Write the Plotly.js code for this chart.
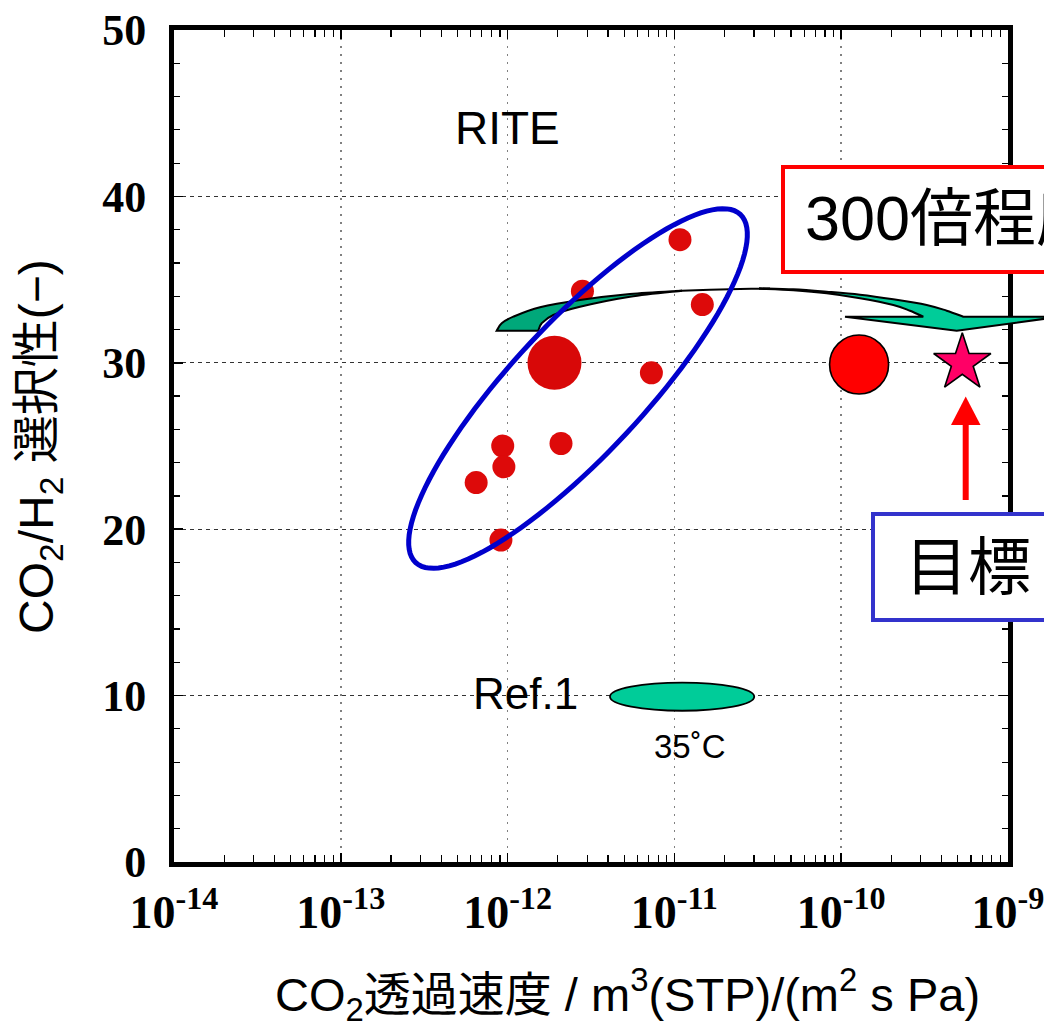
<!DOCTYPE html>
<html><head><meta charset="utf-8">
<script src="https://cdn.plot.ly/plotly-3.0.1.min.js"></script>
<style>html,body{margin:0;padding:0;background:#fff}</style>
</head><body><div id="chart" style="width:1044px;height:1025px"></div>
<script>
// ---- data ----
const riteX = [1.08e-11, 2.81e-12, 1.47e-11, 7.28e-12, 9.35e-13, 2.09e-12, 9.5e-13, 6.48e-13, 9.12e-13];
const riteY = [37.4, 34.3, 33.5, 29.4, 25.0, 25.15, 23.75, 22.8, 19.35];
const riteBigX = [1.91e-12];
const riteBigY = [30.0];
const newX = [1.28e-10];
const newY = [29.9];
const targetX = [5.32e-10];
const targetY = [30.0];
const ref1X = [4.11e-12, 3.01e-11];
const ref1Y = [9.09, 10.78];
const xTickVals = [1e-14, 1e-13, 1e-12, 1e-11, 1e-10, 1e-9];
const xTickText = ['10<sup>-14</sup>', '10<sup>-13</sup>', '10<sup>-12</sup>', '10<sup>-11</sup>', '10<sup>-10</sup>', '10<sup>-9</sup>'];
const yTickVals = [0, 10, 20, 30, 40, 50];
const yTickText = ['0', '10', '20', '30', '40', '50'];

// ---- geometry helpers ----
const L = 174, R = 1008, T = 30, B = 862;
function px2p(px, py) { return [(px - L) / (R - L), (B - py) / (B - T)]; }
function xd2p(v) { return (Math.log10(v) + 14) / 5; }
function yd2p(v) { return v / 50; }
function fmt(p) { return p[0].toFixed(5) + ',' + p[1].toFixed(5); }
function smoothSeg(pts) {
  let s = '';
  for (let i = 0; i < pts.length - 1; i++) {
    const p0 = pts[i - 1] || pts[i], p1 = pts[i], p2 = pts[i + 1], p3 = pts[i + 2] || pts[i + 1];
    const c1 = [p1[0] + (p2[0] - p0[0]) / 6, p1[1] + (p2[1] - p0[1]) / 6];
    const c2 = [p2[0] - (p3[0] - p1[0]) / 6, p2[1] - (p3[1] - p1[1]) / 6];
    s += ' C ' + fmt(c1) + ' ' + fmt(c2) + ' ' + fmt(p2);
  }
  return s;
}
const P = a => a.map(q => px2p(q[0], q[1]));

// green curved arrow, left crescent
const c1Outer = P([[496.7,330.7],[501.7,323.3],[513.3,316.7],[540,307.3],[580,300],[630,294],[682,290.7]]);
const c1Inner = P([[682,290.7],[630,296.7],[580,306.7],[553.3,315],[541.7,323.3],[538.3,330.7]]);
const crescentPath = 'M ' + fmt(c1Outer[0]) + smoothSeg(c1Outer) + smoothSeg(c1Inner) + ' Z';
const linkPts = P([[675,290.9],[710,289.8],[740,289],[770,288.6]]);
const linkPath = 'M ' + fmt(linkPts[0]) + smoothSeg(linkPts);
const a2Upper = P([[760,288.3],[793.3,289.3],[826.7,291.7],[860,294.7],[893.3,299.3],[926.7,305],[946.7,310.7],[963.3,316.7]]);
const a2Inner = P([[923.3,316.7],[910,310.7],[893.3,305],[860,298.3],[826.7,293.3],[793.3,290.3],[760,288.8]]);
const headPts = P([[1060,316.7],[956.7,330.7],[845,316.7]]);
const arrow2Path = 'M ' + fmt(a2Upper[0]) + smoothSeg(a2Upper) +
  ' L ' + fmt(headPts[0]) + ' L ' + fmt(headPts[1]) + ' L ' + fmt(headPts[2]) +
  ' L ' + fmt(a2Inner[0]) + smoothSeg(a2Inner) + ' Z';

// blue ellipse around RITE points
function ellipsePath(cx, cy, a, b, deg) {
  const th = deg * Math.PI / 180;
  const u = [Math.cos(th), -Math.sin(th)], v = [Math.sin(th), Math.cos(th)];
  let s = '';
  for (let i = 0; i <= 120; i++) {
    const t = i / 120 * 2 * Math.PI;
    const x = cx + a * Math.cos(t) * u[0] + b * Math.sin(t) * v[0];
    const y = cy + a * Math.cos(t) * u[1] + b * Math.sin(t) * v[1];
    s += (i === 0 ? 'M ' : ' L ') + fmt(px2p(x, y));
  }
  return s + ' Z';
}

// red up arrow
const redHead = P([[951,425],[980.5,425],[965.7,396.5]]);
const redHeadPath = 'M ' + fmt(redHead[0]) + ' L ' + fmt(redHead[1]) + ' L ' + fmt(redHead[2]) + ' Z';
const redLine0 = px2p(965.7, 500), redLine1 = px2p(965.7, 422);

const rb0 = px2p(783, 272), rb1 = px2p(1100, 167);
const bb0 = px2p(873, 620), bb1 = px2p(1100, 514);

const shapes = [
  {type:'circle', xref:'paper', yref:'paper', x0:xd2p(ref1X[0]), x1:xd2p(ref1X[1]), y0:yd2p(ref1Y[0]), y1:yd2p(ref1Y[1]),
   fillcolor:'#00cc99', line:{color:'#000', width:1.8}, layer:'above'},
  {type:'path', xref:'paper', yref:'paper', path:crescentPath, fillcolor:'#00a87a', line:{color:'#000', width:2}, layer:'above'},
  {type:'path', xref:'paper', yref:'paper', path:linkPath, line:{color:'#000', width:2}, layer:'above'},
  {type:'path', xref:'paper', yref:'paper', path:arrow2Path, fillcolor:'#00cc99', line:{color:'#000', width:2}, layer:'above'},
  {type:'path', xref:'paper', yref:'paper', path:ellipsePath(578, 388.5, 238, 66, 47), line:{color:'#0000cc', width:5}, layer:'above'},
  {type:'line', xref:'paper', yref:'paper', x0:redLine0[0], y0:redLine0[1], x1:redLine1[0], y1:redLine1[1], line:{color:'#ff0000', width:6}, layer:'above'},
  {type:'path', xref:'paper', yref:'paper', path:redHeadPath, fillcolor:'#ff0000', line:{color:'#ff0000', width:0}, layer:'above'},
  {type:'rect', xref:'paper', yref:'paper', x0:rb0[0], y0:rb0[1], x1:rb1[0], y1:rb1[1], fillcolor:'#fff', line:{color:'#ff0000', width:4}, layer:'above'},
  {type:'rect', xref:'paper', yref:'paper', x0:bb0[0], y0:bb0[1], x1:bb1[0], y1:bb1[1], fillcolor:'#fff', line:{color:'#3333cc', width:4}, layer:'above'}
];

const sans = 'Liberation Sans, Arial, Noto Sans CJK JP, sans-serif';
function ann(text, px, py, size, extra) {
  const p = px2p(px, py);
  return Object.assign({text:text, xref:'paper', yref:'paper', x:p[0], y:p[1], xanchor:'center', yanchor:'middle',
    showarrow:false, font:{family:sans, size:size, color:'#000'}}, extra || {});
}
const annotations = [
  ann('RITE', 507.5, 128, 46),
  ann('Ref.1', 525.8, 693, 44),
  ann('35˚C', 690, 746, 33),
  ann('300倍程度', 803, 218, 63, {xanchor:'left'}),
  ann('目標', 903, 567, 63, {xanchor:'left'}),
  ann('CO<sub>2</sub>/H<sub>2</sub> 選択性(−)', 40, 447, 48, {textangle:-90}),
  ann('CO<sub>2</sub>透過速度 / m<sup>3</sup>(STP)/(m<sup>2</sup> s Pa)', 627, 994, 47)
];

const traces = [
  {x:riteX, y:riteY, type:'scatter', mode:'markers', marker:{color:'#dd0a0a', size:23, line:{width:0}}, hoverinfo:'skip'},
  {x:riteBigX, y:riteBigY, type:'scatter', mode:'markers', marker:{color:'#d80808', size:54, line:{width:0}}, hoverinfo:'skip'},
  {x:newX, y:newY, type:'scatter', mode:'markers', marker:{color:'#ff0000', size:59, line:{color:'#000', width:1.6}}, hoverinfo:'skip'},
  {x:targetX, y:targetY, type:'scatter', mode:'markers', marker:{symbol:'star', color:'#ff0066', size:43, line:{color:'#000', width:1.6}}, hoverinfo:'skip'}
];

const tickFont = {family:'Liberation Serif, Times New Roman, serif', size:44, color:'#000', weight:'bold'};
const layout = {
  width:1044, height:1025,
  margin:{l:L, r:1044 - R, t:T, b:1025 - B},
  paper_bgcolor:'#fff', plot_bgcolor:'#fff',
  showlegend:false,
  xaxis:{type:'log', range:[-14, -9], tickvals:xTickVals, ticktext:xTickText, tickfont:Object.assign({}, tickFont, {size:46}),
    ticklabeloverflow:'allow',
    showline:true, linewidth:5, linecolor:'#000', mirror:'allticks', ticks:'inside', ticklen:9, tickwidth:1.5, tickcolor:'#000',
    showgrid:true, gridcolor:'#808080', griddash:'2px,6px', gridwidth:1.6, zeroline:false, ticklabelstandoff:6,
    minor:{ticks:'inside', ticklen:7, tickwidth:1.2, tickcolor:'#000', showgrid:false, dtick:'D1'}},
  yaxis:{range:[0, 50], tickvals:yTickVals, ticktext:yTickText, tickfont:tickFont, ticklabeloverflow:'allow',
    showline:true, linewidth:5, linecolor:'#000', mirror:'allticks', ticks:'inside', ticklen:9, tickwidth:1.5, tickcolor:'#000',
    showgrid:true, gridcolor:'#333', griddash:'4px,4px', gridwidth:1, zeroline:false, ticklabelstandoff:14,
    minor:{ticks:'inside', ticklen:6, tickwidth:1.2, tickcolor:'#000', showgrid:false, dtick:2}},
  shapes:shapes,
  annotations:annotations
};
Plotly.newPlot('chart', traces, layout, {staticPlot:true, displayModeBar:false});
</script></body></html>
